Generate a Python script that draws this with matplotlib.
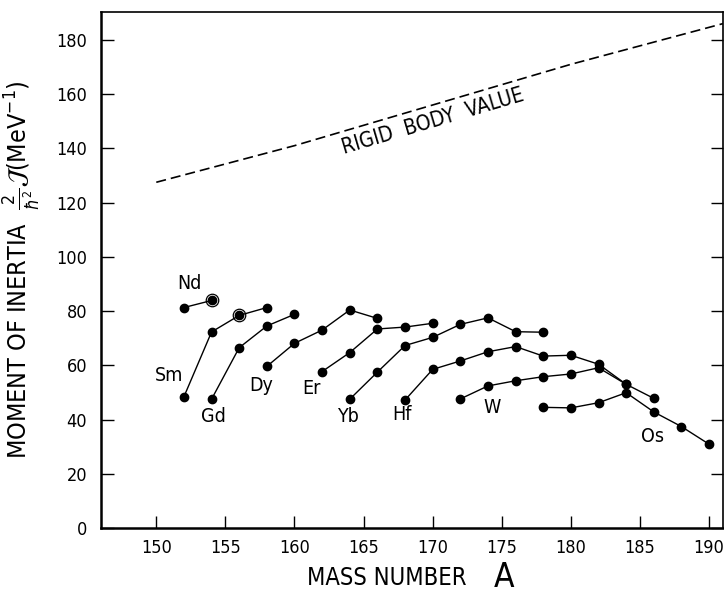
import numpy as np
import matplotlib
matplotlib.use("Agg")
import matplotlib.pyplot as plt

plt.rcParams['font.family'] = ['DejaVu Sans']
plt.rcParams['font.stretch'] = 'condensed'
plt.rcParams['mathtext.fontset'] = 'dejavusans'

# rigid body estimate (dashed)
rigid_A = [150, 160, 170, 180, 191]
rigid_J = [127.5, 141, 156, 171, 186]

# measured moments of inertia, per element
Nd_A = [152, 154]
Nd_J = [81.3, 83.9]
Sm_A = [152, 154, 156, 158]
Sm_J = [48.4, 72.3, 78.4, 81.3]
Gd_A = [154, 156, 158, 160]
Gd_J = [47.5, 66.5, 74.5, 78.8]
Dy_A = [158, 160, 162, 164, 166]
Dy_J = [59.6, 68.1, 73.0, 80.4, 77.3]
Er_A = [162, 164, 166, 168, 170]
Er_J = [57.7, 64.7, 73.4, 74.1, 75.5]
Yb_A = [164, 166, 168, 170, 172, 174, 176, 178]
Yb_J = [47.5, 57.5, 67.3, 70.3, 75.1, 77.5, 72.4, 72.2]
Hf_A = [168, 170, 172, 174, 176, 178, 180, 182, 184, 186]
Hf_J = [47.2, 58.5, 61.6, 65.0, 66.9, 63.4, 63.7, 60.4, 53.0, 47.8]
W_A = [172, 174, 176, 178, 180, 182, 184]
W_J = [47.6, 52.4, 54.3, 55.8, 56.8, 59.1, 53.0]
Os_A = [178, 180, 182, 184, 186, 188, 190]
Os_J = [44.5, 44.3, 46.2, 49.9, 42.8, 37.4, 30.9]

series = [("Nd", Nd_A, Nd_J), ("Sm", Sm_A, Sm_J), ("Gd", Gd_A, Gd_J),
          ("Dy", Dy_A, Dy_J), ("Er", Er_A, Er_J), ("Yb", Yb_A, Yb_J),
          ("Hf", Hf_A, Hf_J), ("W", W_A, W_J), ("Os", Os_A, Os_J)]

# label positions
lab_pos = {"Nd": (152.4, 90.0), "Sm": (150.9, 56.1), "Gd": (154.1, 41.3),
           "Dy": (157.6, 52.4), "Er": (161.2, 51.6), "Yb": (163.9, 41.3),
           "Hf": (167.8, 41.7), "W": (174.3, 44.6), "Os": (185.9, 33.6)}

# circled points
circ_A = [154, 156]
circ_J = [83.9, 78.4]

fig = plt.figure(figsize=(7.24, 5.93), dpi=100)
ax = fig.add_axes([0.1395, 0.1096, 0.859, 0.8702])

for name, a, j in series:
    ax.plot(a, j, '-o', color='black', lw=1.0, ms=6)
    ax.text(lab_pos[name][0], lab_pos[name][1], name, fontsize=14,
            ha='center', va='center')

ax.plot(circ_A, circ_J, 'o', mfc='none', mec='black', ms=9, mew=0.9)

ax.plot(rigid_A, rigid_J, color='black', lw=1.2, dashes=(6, 3))
ax.text(170.0, 150.0, "RIGID  BODY  VALUE", fontsize=15, rotation=16.5,
        ha='center', va='center')

ax.set_xlim(146, 191)
ax.set_ylim(0, 190.3)
ax.set_xticks(np.arange(150, 191, 5))
ax.set_yticks(np.arange(0, 181, 20))
ax.tick_params(direction='in', length=9, width=1, labelsize=13, right=True,
               labelright=False)
ax.tick_params(axis='y', pad=10)
ax.tick_params(axis='x', pad=8)
for s in ['left', 'bottom']:
    ax.spines[s].set_linewidth(1.8)
for s in ['top', 'right']:
    ax.spines[s].set_linewidth(1.2)

ax.text(0.46, -0.097, "MASS NUMBER", transform=ax.transAxes, fontsize=17,
        ha='center', va='center')
ax.text(0.648, -0.095, "A", transform=ax.transAxes, fontsize=24,
        ha='center', va='center')

ax.set_ylabel(r"MOMENT OF INERTIA  $\frac{2}{\hbar^2}\mathcal{J}$(MeV$^{-1}$)",
              fontsize=18, labelpad=10)

plt.savefig("out.png", dpi=100)
